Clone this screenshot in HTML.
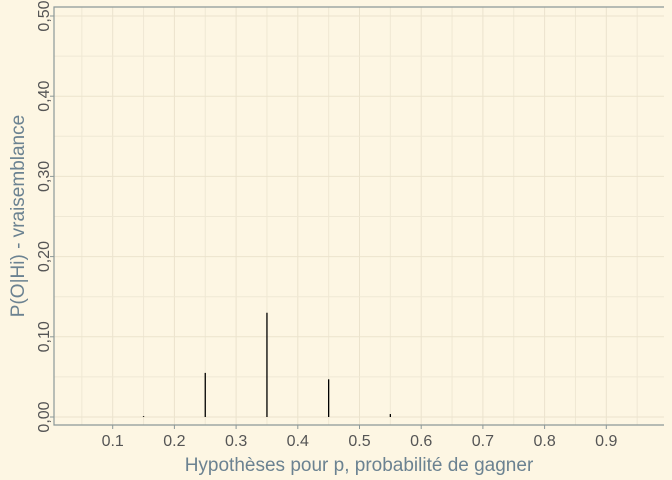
<!DOCTYPE html>
<html><head><meta charset="utf-8"><style>
body{margin:0;background:#fdf6e3;}
svg{display:block;font-family:"Liberation Sans",sans-serif;}
</style></head><body>
<svg id="c" width="672" height="480">
<rect width="672" height="480" fill="#fdf6e3"/>
<g id="grid"></g>
<g id="bars"></g>
<g id="axes"></g>
<text x="359" y="471" text-anchor="middle" font-size="19" fill="#6b8291">Hypothèses pour p, probabilité de gagner</text>
<text transform="translate(24,216) rotate(-90)" text-anchor="middle" font-size="19" fill="#6b8291">P(O|Hi) - vraisemblance</text>
</svg>
<script>
const hypotheses=[0.15,0.25,0.35,0.45,0.55];
const likelihoods=[0.001,0.055,0.13,0.047,0.0037];
const xTicks=[0.1,0.2,0.3,0.4,0.5,0.6,0.7,0.8,0.9];
const yTicks=[0,0.1,0.2,0.3,0.4,0.5];
const yTickLabels=["0,00","0,10","0,20","0,30","0,40","0,50"];
const L=54,R=664,T=7,B=425;
const xs=p=>112.7+(p-0.1)*617;
const ys=v=>417-v*802;
const NS="http://www.w3.org/2000/svg";
function mk(tag,attrs,parent){const e=document.createElementNS(NS,tag);for(const k in attrs)e.setAttribute(k,attrs[k]);parent.appendChild(e);return e;}
const grid=document.getElementById('grid'),bars=document.getElementById('bars'),axes=document.getElementById('axes');
for(let i=0;i<xTicks.length;i++){
  const x=xs(xTicks[i]);
  const g=mk('line',{x1:x,x2:x,y1:T,y2:B,stroke:'#ebe3cd','stroke-width':1},grid);
  
  
  const m=xs(xTicks[i]-0.05);
  const gm=mk('line',{x1:m,x2:m,y1:T,y2:B,stroke:'#efe8d4','stroke-width':1},grid);
  
  
  const tk=mk('line',{x1:x,x2:x,y1:B,y2:B+4,stroke:'#8c9898'},axes);
  
  
  const t=mk('text',{x:x,y:B+21,'text-anchor':'middle','font-size':16,fill:'#555'},axes);
  t.textContent=xTicks[i].toFixed(1);
  
  
}
{const m=xs(0.95);const gm=mk('line',{x1:m,x2:m,y1:T,y2:B,stroke:'#efe8d4'},grid);

}
for(let i=0;i<yTicks.length;i++){
  const y=ys(yTicks[i]);
  const g=mk('line',{x1:L,x2:R,y1:y,y2:y,stroke:'#ebe3cd'},grid);
  
  
  if(i<yTicks.length-1){const ym=ys(yTicks[i]+0.05);
  const gm=mk('line',{x1:L,x2:R,y1:ym,y2:ym,stroke:'#efe8d4'},grid);
  
  }
  const tk=mk('line',{x1:L-4,x2:L,y1:y,y2:y,stroke:'#8c9898'},axes);
  
  
  const t=mk('text',{transform:`translate(49,${y}) rotate(-90)`,'text-anchor':'middle','font-size':16,fill:'#555'},axes);
  t.textContent=yTickLabels[i];
  
  
}
for(let i=0;i<hypotheses.length;i++){
  const x=xs(hypotheses[i]);
  const b=mk('line',{x1:x,x2:x,y1:ys(0),y2:ys(likelihoods[i]),stroke:'#000','stroke-width':1.3},bars);
  
  
}
const ax=mk('path',{d:`M${R},${T}H${L}V${B}H${R}`,fill:'none',stroke:'#8c9898','stroke-width':1.2},axes);


</script>
</body></html>
